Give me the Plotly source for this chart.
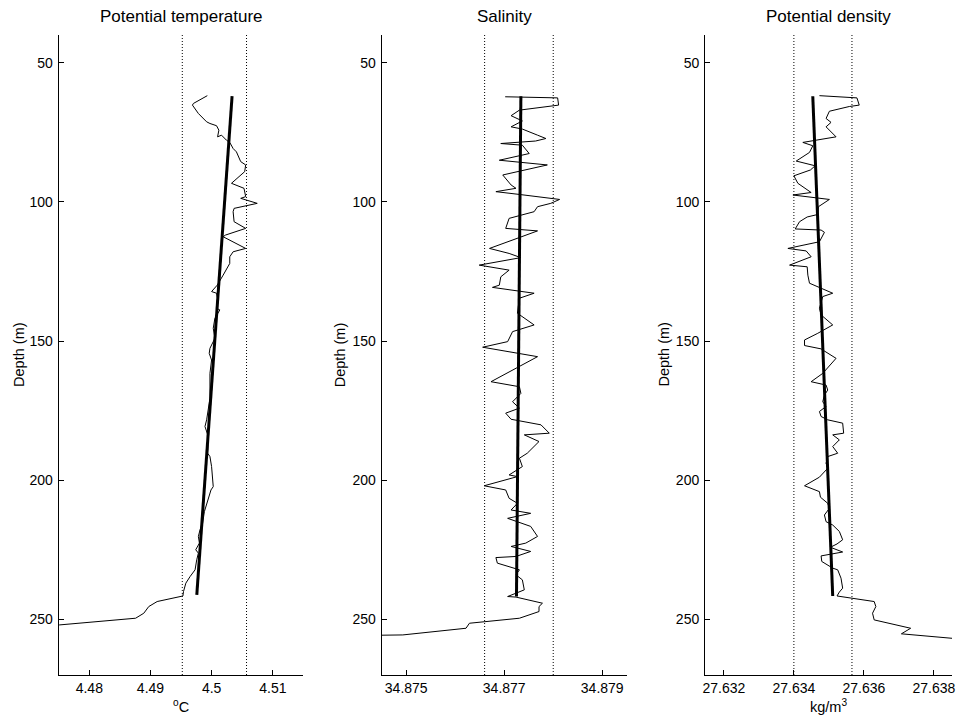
import plotly.graph_objects as go

# ---------------- data ----------------
titles = ["Potential temperature", "Salinity", "Potential density"]
x_titles = ["<sup>o</sup>C", "", "kg/m<sup>3</sup>"]
depth_ticks = [50, 100, 150, 200, 250]

temp_depth = [61.8, 64.6, 65.2, 68.2, 71.2, 71.8, 72.6, 74.2, 76.6, 76.0, 77.8, 78.6, 80.8, 82.0,
              85.5, 86.7, 89.1, 93.3, 95.1, 98.1, 98.7, 100.5, 102.3, 103.5, 107.1, 109.5, 111.9,
              112.5, 116.7, 117.9, 119.7, 122.1, 126.3, 129.9, 132.2, 132.8, 135.8, 138.2, 138.8,
              141.8, 145.4, 149.0, 152.6, 154.4, 156.8, 161.6, 170.6, 173.5, 178.3, 180.7, 184.3,
              190.3, 191.5, 195.1, 202.3, 203.5, 208.3, 211.3, 216.1, 217.8, 220.2, 222.6, 225.0,
              226.2, 228.6, 232.2, 234.6, 237.0, 240.0, 241.6, 243.6, 245.4, 247.8, 249.6, 252.0,
              252.3]
temp_value = [4.49929, 4.49702, 4.49686, 4.49783, 4.49918, 4.49972, 4.50080, 4.50118, 4.50097,
              4.50161, 4.50242, 4.50296, 4.50351, 4.50405, 4.50475, 4.50556, 4.50540, 4.50324,
              4.50529, 4.50556, 4.50475, 4.50745, 4.50367, 4.50351, 4.50367, 4.50556, 4.50226,
              4.50188, 4.50556, 4.50351, 4.50296, 4.50296, 4.50188, 4.50091, 4.49999, 4.50080,
              4.50107, 4.50080, 4.50134, 4.50053, 4.50026, 4.50053, 4.49972, 4.49960, 4.49999,
              4.49972, 4.49972, 4.49956, 4.49918, 4.49891, 4.49945, 4.49935, 4.49972, 4.49999,
              4.50026, 4.49989, 4.49918, 4.49881, 4.49848, 4.49810, 4.49783, 4.49800, 4.49740,
              4.49783, 4.49756, 4.49729, 4.49648, 4.49578, 4.49540, 4.49530, 4.49109, 4.48972,
              4.48891, 4.48757, 4.47514, 4.47400]
temp_fit_depth = [62.0, 241.2]
temp_fit = [4.50334, 4.49757]
temp_bounds = [4.4952, 4.5057]

sal_depth = [62.2, 62.6, 65.2, 67.0, 69.0, 70.9, 73.0, 73.8, 76.0, 77.2, 78.1, 79.0, 79.6, 82.6,
             85.0, 85.8, 86.7, 90.3, 93.9, 95.1, 96.3, 97.3, 99.1, 100.5, 101.7, 103.5, 105.9,
             109.5, 110.4, 116.7, 118.5, 120.0, 122.7, 124.5, 126.9, 129.9, 130.7, 132.8, 134.6,
             140.0, 144.2, 146.6, 150.2, 152.2, 155.6, 164.6, 166.4, 168.8, 171.8, 174.1, 175.9,
             178.1, 180.1, 183.1, 183.7, 186.1, 190.3, 192.1, 195.1, 198.1, 198.7, 202.0, 203.5,
             206.5, 208.3, 210.7, 211.9, 213.7, 214.9, 216.6, 220.2, 222.6, 223.8, 225.6, 227.4,
             227.8, 229.8, 232.2, 234.0, 235.8, 239.4, 241.8, 242.0, 244.2, 245.4, 247.2, 249.6,
             250.8, 251.4, 253.2, 254.7, 255.6, 255.7, 255.8]
sal_value = [34.87702, 34.87809, 34.87811, 34.87731, 34.87714, 34.87737, 34.87714, 34.87737,
             34.87768, 34.87785, 34.87764, 34.87693, 34.87737, 34.87751, 34.87690, 34.87737,
             34.87788, 34.87697, 34.87714, 34.87724, 34.87683, 34.87731, 34.87813, 34.87795,
             34.87768, 34.87761, 34.87710, 34.87703, 34.87768, 34.87670, 34.87710, 34.87734,
             34.87649, 34.87710, 34.87693, 34.87690, 34.87676, 34.87761, 34.87731, 34.87727,
             34.87761, 34.87717, 34.87707, 34.87656, 34.87768, 34.87673, 34.87731, 34.87734,
             34.87717, 34.87731, 34.87703, 34.87714, 34.87775, 34.87792, 34.87741, 34.87771,
             34.87747, 34.87731, 34.87737, 34.87710, 34.87727, 34.87659, 34.87703, 34.87710,
             34.87727, 34.87714, 34.87754, 34.87707, 34.87727, 34.87754, 34.87768, 34.87744,
             34.87714, 34.87754, 34.87724, 34.87683, 34.87686, 34.87731, 34.87724, 34.87737,
             34.87741, 34.87707, 34.87724, 34.87778, 34.87771, 34.87771, 34.87731, 34.87663,
             34.87629, 34.87622, 34.87541, 34.87493, 34.87449, 34.87400]
sal_fit_depth = [62.0, 241.8]
sal_fit = [34.87734, 34.87725]
sal_bounds = [34.8766, 34.8780]

dens_depth = [61.8, 62.6, 65.2, 65.7, 67.4, 70.0, 71.4, 73.0, 76.6, 77.2, 78.6, 79.8, 82.2, 85.3,
              87.0, 88.5, 90.6, 93.3, 96.6, 97.5, 99.1, 101.7, 104.5, 105.4, 107.1, 109.7, 110.1,
              110.9, 114.3, 116.7, 117.6, 119.7, 122.7, 123.3, 126.3, 129.2, 131.0, 132.8, 134.0,
              138.2, 140.6, 144.2, 147.2, 149.6, 151.6, 152.8, 153.2, 156.2, 161.6, 164.6, 165.8,
              167.6, 169.4, 171.8, 173.5, 175.3, 177.1, 178.3, 179.5, 183.1, 183.7, 185.5, 187.9,
              190.3, 191.5, 193.9, 195.7, 197.5, 198.9, 202.0, 204.1, 206.1, 208.3, 210.1, 212.5,
              214.9, 216.1, 218.4, 221.4, 222.9, 224.1, 225.8, 227.2, 229.2, 231.6, 232.2, 235.2,
              238.8, 240.2, 241.6, 243.6, 245.4, 247.8, 250.2, 251.6, 253.2, 255.2, 255.9, 256.8,
              256.9]
dens_value = [27.634730, 27.635802, 27.635868, 27.635584, 27.635015, 27.634920, 27.635062,
              27.634920, 27.635205, 27.634920, 27.634256, 27.634541, 27.634446, 27.634067,
              27.634607, 27.634474, 27.634000, 27.634114, 27.634493, 27.633972, 27.635015,
              27.634702, 27.634683, 27.634380, 27.634161, 27.634038, 27.634778, 27.634873,
              27.634730, 27.633829, 27.634351, 27.634493, 27.633877, 27.634380, 27.634399,
              27.634446, 27.634778, 27.635110, 27.634825, 27.634730, 27.634778, 27.635110,
              27.634683, 27.634304, 27.634304, 27.634778, 27.634825, 27.635205, 27.634825,
              27.634493, 27.634920, 27.634967, 27.634873, 27.634825, 27.634920, 27.634730,
              27.634778, 27.634967, 27.635394, 27.635423, 27.635110, 27.635299, 27.635110,
              27.635252, 27.634967, 27.634920, 27.634967, 27.634825, 27.634730, 27.634304,
              27.634730, 27.634759, 27.634967, 27.635015, 27.634873, 27.634920, 27.635110,
              27.635299, 27.635394, 27.635233, 27.635043, 27.635394, 27.634778, 27.634797,
              27.635110, 27.635252, 27.635347, 27.635394, 27.635299, 27.635233, 27.636295,
              27.636343, 27.636248, 27.636295, 27.636769, 27.637338, 27.637073, 27.637813,
              27.638524, 27.638600]
dens_fit_depth = [62.0, 241.6]
dens_fit = [27.63454, 27.63511]
dens_bounds = [27.6340, 27.63566]

x_ranges = [[4.475, 4.515], [34.8745, 34.8795], [27.63146, 27.63852]]
x_tickvals = [[4.48, 4.49, 4.5, 4.51], [34.875, 34.877, 34.879],
              [27.632, 27.634, 27.636, 27.638]]
x_ticktext = [["4.48", "4.49", "4.5", "4.51"], ["34.875", "34.877", "34.879"],
              ["27.632", "27.634", "27.636", "27.638"]]
depth_range = [270, 40]

# ---------------- layout geometry (pixels) ----------------
W, H = 960, 716
x_doms_px = [(57, 303), (381.7, 628), (706.7, 955)]
y_dom_px = (35, 675)
ylabel_x_px = [17, 340, 665]

FONT = "Liberation Sans, Arial, Helvetica, sans-serif"

fig = go.Figure()

profiles = [
    (temp_value, temp_depth, temp_fit, temp_fit_depth, temp_bounds),
    (sal_value, sal_depth, sal_fit, sal_fit_depth, sal_bounds),
    (dens_value, dens_depth, dens_fit, dens_fit_depth, dens_bounds),
]

annotations = []
shapes = []
for i, (xv, dv, fx, fd, bounds) in enumerate(profiles):
    sfx = "" if i == 0 else str(i + 1)
    xa, ya = "x" + sfx, "y" + sfx
    fig.add_trace(go.Scatter(x=xv, y=dv, mode="lines", xaxis=xa, yaxis=ya,
                             line=dict(color="black", width=1), showlegend=False,
                             hoverinfo="skip"))
    fig.add_trace(go.Scatter(x=fx, y=fd, mode="lines", xaxis=xa, yaxis=ya,
                             line=dict(color="black", width=3), showlegend=False,
                             hoverinfo="skip"))
    for b in bounds:
        shapes.append(dict(type="line", xref=xa, yref=ya + " domain", x0=b, x1=b, y0=0, y1=1,
                           line=dict(color="black", width=1, dash="1px,2px")))
    x0, x1 = x_doms_px[i]
    dom_x = [x0 / W, x1 / W]
    dom_y = [1 - y_dom_px[1] / H, 1 - y_dom_px[0] / H]
    axis_common = dict(showline=True, linecolor="black", linewidth=1, mirror=False,
                       ticks="inside", ticklen=5, tickcolor="black", tickwidth=1,
                       showgrid=False, zeroline=False,
                       tickfont=dict(family=FONT, size=14, color="black"))
    fig.update_layout(**{
        ("xaxis" + sfx): dict(domain=dom_x, range=x_ranges[i], anchor=ya,
                              tickvals=x_tickvals[i], ticktext=x_ticktext[i], **axis_common),
        ("yaxis" + sfx): dict(domain=dom_y, range=depth_range, anchor=xa,
                              tickvals=depth_ticks, ticktext=[str(t) for t in depth_ticks],
                              ticklabelstandoff=2, **axis_common),
    })
    cx = (x0 + x1) / 2 / W
    annotations.append(dict(text=titles[i], x=cx, y=1 - 17 / H, xref="paper", yref="paper",
                            showarrow=False, xanchor="center", yanchor="middle",
                            font=dict(family=FONT, size=17, color="black")))
    annotations.append(dict(text="Depth (m)", x=ylabel_x_px[i] / W, y=1 - 355 / H,
                            xref="paper", yref="paper", showarrow=False, textangle=-90,
                            xanchor="center", yanchor="middle",
                            font=dict(family=FONT, size=14.5, color="black")))
    if x_titles[i]:
        annotations.append(dict(text=x_titles[i], x=cx, y=1 - 706 / H, xref="paper",
                                yref="paper", showarrow=False, xanchor="center",
                                yanchor="middle",
                                font=dict(family=FONT, size=14.5, color="black")))

fig.update_layout(width=W, height=H, margin=dict(l=0, r=0, t=0, b=0),
                  paper_bgcolor="white", plot_bgcolor="white",
                  annotations=annotations, shapes=shapes)

fig.write_html("out.html")
